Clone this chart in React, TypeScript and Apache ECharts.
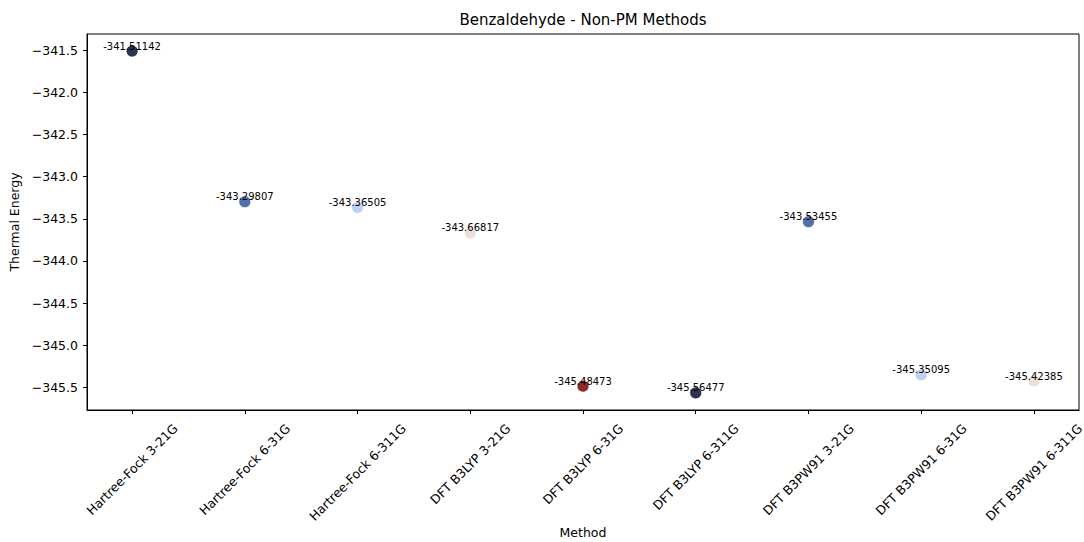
import React, { useEffect, useRef } from "react";
import * as echarts from "echarts";

const methods = [
  "Hartree-Fock 3-21G",
  "Hartree-Fock 6-31G",
  "Hartree-Fock 6-311G",
  "DFT B3LYP 3-21G",
  "DFT B3LYP 6-31G",
  "DFT B3LYP 6-311G",
  "DFT B3PW91 3-21G",
  "DFT B3PW91 6-31G",
  "DFT B3PW91 6-311G",
];
const energies = [
  -341.51142, -343.29807, -343.36505, -343.66817, -345.48473, -345.56477,
  -343.53455, -345.35095, -345.42385,
];
const colors = [
  "#2c3354", "#5470a8", "#bcd2f0", "#ece0dc", "#8e2a2d",
  "#2c3354", "#5470a8", "#bcd2f0", "#ece0dc",
];
const yTicks = [-345.5, -345.0, -344.5, -344.0, -343.5, -343.0, -342.5, -342.0, -341.5];
const xTicks = [0, 1, 2, 3, 4, 5, 6, 7, 8];

const FONT = '"DejaVu Sans", sans-serif';

export default function App() {
  const ref = useRef<HTMLDivElement>(null);
  useEffect(() => {
    if (!ref.current) return;
    const chart = echarts.init(ref.current, undefined, { renderer: "svg" });

    const yMaxD = Math.max(...energies);
    const yMinD = Math.min(...energies);
    const pad = (yMaxD - yMinD) * 0.05;
    const yMin = yMinD - pad;
    const yMax = yMaxD + pad;
    const xPad = (methods.length - 1) * 0.05;

    const canvas = document.createElement("canvas");
    const ctx = canvas.getContext("2d")!;
    ctx.font = '12.5px "DejaVu Sans"';
    const widths = methods.map((m) => ctx.measureText(m).width);
    const h = 14.5;

    chart.setOption({
      animation: false,
      graphic: [
        {
          type: "text",
          x: 583,
          y: 20,
          style: {
            text: "Benzaldehyde - Non-PM Methods",
            font: `15px ${FONT}`,
            fill: "#000",
            align: "center",
            verticalAlign: "middle",
          },
        },
      ],
      grid: {
        left: 87,
        right: 5,
        top: 34,
        bottom: 132,
        show: true,
        borderColor: "#000",
        borderWidth: 1,
        backgroundColor: "transparent",
        containLabel: false,
        outerBoundsMode: "none",
      },
      xAxis: {
        type: "value",
        min: -xPad,
        max: methods.length - 1 + xPad,
        name: "Method",
        nameLocation: "middle",
        nameGap: 116,
        nameTextStyle: { fontFamily: FONT, fontSize: 12.5, color: "#000" },
        axisLine: { show: true, onZero: false, lineStyle: { color: "#000", width: 1 } },
        axisTick: { show: true, length: 4, lineStyle: { color: "#000" }, customValues: xTicks },
        axisLabel: { show: false },
        splitLine: { show: false },
      },
      yAxis: {
        type: "value",
        min: yMin,
        max: yMax,
        name: "Thermal Energy",
        nameLocation: "middle",
        nameGap: 63,
        nameRotate: 90,
        nameTextStyle: { fontFamily: FONT, fontSize: 12.5, color: "#000" },
        axisLine: { show: true, onZero: false, lineStyle: { color: "#000", width: 1 } },
        axisTick: { show: true, length: 4, lineStyle: { color: "#000" }, customValues: yTicks },
        axisLabel: {
          customValues: yTicks,
          margin: 9,
          fontFamily: FONT,
          fontSize: 12.5,
          color: "#000",
          formatter: (v: number) => (v < 0 ? "\u2212" : "") + Math.abs(v).toFixed(1),
        },
        splitLine: { show: false },
      },
      series: [
        {
          type: "scatter",
          symbolSize: 12,
          data: energies.map((e, i) => ({
            value: [i, e],
            itemStyle: { color: colors[i], borderColor: "#fff", borderWidth: 0.8, opacity: 1 },
          })),
          label: {
            show: true,
            position: "inside",
            verticalAlign: "bottom",
            align: "center",
            offset: [0, 1],
            fontFamily: FONT,
            fontSize: 10,
            color: "#000",
            lineHeight: 12,
            formatter: (p: any) => p.value[1].toFixed(5),
          },
          z: 2,
        },
        {
          type: "custom",
          silent: true,
          data: xTicks.map((i) => [i, yMin]),
          renderItem: (params: any, api: any) => {
            const idx = api.value(0);
            const pt = api.coord([idx, api.value(1)]);
            const w = widths[idx];
            const y0 = pt[1] + 11;
            const cy = y0 + (w + h) * 0.3536;
            return {
              type: "text",
              x: pt[0],
              y: cy,
              rotation: Math.PI / 4,
              style: {
                text: methods[idx],
                font: `12.5px ${FONT}`,
                fill: "#000",
                align: "center",
                verticalAlign: "middle",
              },
            };
          },
          z: 3,
        },
      ],
    });
    return () => chart.dispose();
  }, []);
  return (
    <div
      ref={ref}
      style={{ position: "absolute", left: 0, top: 0, width: 1084, height: 542, background: "#fff" }}
    />
  );
}
